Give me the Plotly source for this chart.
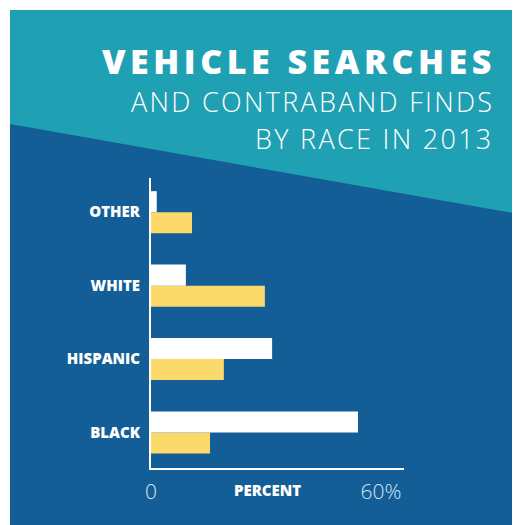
import plotly.graph_objects as go

categories = ["BLACK", "HISPANIC", "WHITE", "OTHER"]
searches = [54.0, 31.6, 9.1, 1.5]
contraband = [15.4, 19.0, 29.7, 10.7]
x_tick_vals = [0, 60]
x_tick_text = ["0", "60%"]

BLUE = "#135e97"
TEAL = "#1fa0b3"
YELLOW = "#fcd96b"
FONT = "Open Sans"

# page body has an 8px margin; figure sized so it ends at the window edge
OFF = 8
W, H = 520 - OFF, 525 - OFF
L, R, T, B = 151 - OFF, 404 - OFF, 178 - OFF, 468 - OFF

def px(x):
    return ((x - OFF) - L) / (R - L)

def py(y):
    return (B - (y - OFF)) / (B - T)

fig = go.Figure()
fig.add_trace(go.Bar(y=categories, x=contraband, orientation="h",
                     marker=dict(color=YELLOW, line=dict(width=0)), name="Contraband"))
fig.add_trace(go.Bar(y=categories, x=searches, orientation="h",
                     marker=dict(color="#ffffff", line=dict(width=0)), name="Searches"))

shapes = [
    dict(type="rect", xref="paper", yref="paper", x0=px(10), x1=px(530), y0=py(535), y1=py(10),
         fillcolor=BLUE, line=dict(width=0), layer="below"),
    dict(type="path", xref="paper", yref="paper",
         path=f"M {px(10)},{py(10)} L {px(530)},{py(10)} L {px(530)},{py(216)} L {px(10)},{py(124)} Z",
         fillcolor=TEAL, line=dict(width=0), layer="below"),
]

annotations = [
    dict(text='<span style="letter-spacing:4.5px">VEHICLE SEARCHES</span>', x=px(498), y=py(61.5),
         xref="paper", yref="paper", xanchor="right", yanchor="middle", showarrow=False,
         font=dict(family=FONT, size=34, color="white", weight=800)),
    dict(text='<span style="letter-spacing:2.3px">AND CONTRABAND FINDS</span>', x=px(495.5), y=py(101),
         xref="paper", yref="paper", xanchor="right", yanchor="middle", showarrow=False,
         font=dict(family=FONT, size=27, color="white", weight=300)),
    dict(text='<span style="letter-spacing:2.3px">BY RACE IN 2013</span>', x=px(495.5), y=py(138),
         xref="paper", yref="paper", xanchor="right", yanchor="middle", showarrow=False,
         font=dict(family=FONT, size=27, color="white", weight=300)),
    dict(text="PERCENT", x=px(267), y=py(490), xref="paper", yref="paper",
         xanchor="center", yanchor="middle", showarrow=False,
         font=dict(family=FONT, size=15, color="white", weight=800)),
]

fig.update_layout(
    width=W, height=H,
    margin=dict(l=L, r=W - R, t=T, b=H - B, pad=0),
    paper_bgcolor="white", plot_bgcolor="rgba(0,0,0,0)",
    barmode="group", bargap=0.427, bargroupgap=0,
    showlegend=False,
    shapes=shapes, annotations=annotations,
    xaxis=dict(range=[0, 66], tickvals=x_tick_vals, ticktext=x_tick_text,
               showgrid=False, zeroline=False, showline=True, linecolor="white", linewidth=2,
               ticks="outside", ticklen=4, tickcolor="rgba(0,0,0,0)",
               tickfont=dict(family=FONT, size=21, color="#d6e5f0", weight=300), fixedrange=True),
    yaxis=dict(range=[-0.484, 3.466], showgrid=False, zeroline=False, showline=True,
               linecolor="white", linewidth=2, ticks="outside", ticklen=6,
               tickcolor="rgba(0,0,0,0)",
               tickfont=dict(family=FONT, size=15, color="white", weight=800), fixedrange=True),
)

fig.write_html("out.html")
